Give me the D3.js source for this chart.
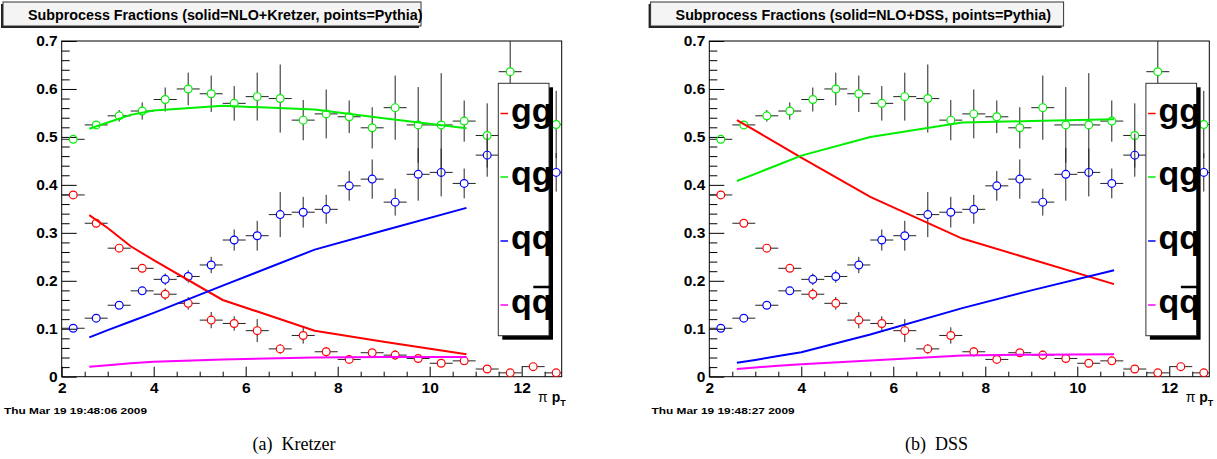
<!DOCTYPE html>
<html>
<head>
<meta charset="utf-8">
<script src="https://cdn.jsdelivr.net/npm/d3@7/dist/d3.min.js"></script>
<style>
  html, body { margin: 0; padding: 0; background: #fff; }
  svg { display: block; }
</style>
</head>
<body>
<svg id="chart" width="1217" height="459"></svg>
<script>
// ---------------- DATA ----------------
const binCenters = [2.25, 2.75, 3.25, 3.75, 4.25, 4.75, 5.25, 5.75, 6.25, 6.75, 7.25,
                    7.75, 8.25, 8.75, 9.25, 9.75, 10.25, 10.75, 11.25, 11.75, 12.25, 12.75];
const binHalfWidth = 0.25;

// Pythia points
const pythiaGG    = [0.379, 0.320, 0.268, 0.226, 0.172, 0.153, 0.118, 0.111, 0.096, 0.058, 0.086,
                     0.052, 0.036, 0.050, 0.045, 0.038, 0.028, 0.033, 0.016, 0.008, 0.021, 0.008];
const pythiaGGErr = [0.003, 0.004, 0.005, 0.007, 0.012, 0.013, 0.017, 0.015, 0.024, 0.010, 0.017,
                     0.010, 0.006, 0.008, 0.010, 0.008, 0.005, 0.005, 0.004, 0.003, 0.004, 0.003];
const pythiaQG    = [0.495, 0.525, 0.544, 0.554, 0.578, 0.600, 0.590, 0.570, 0.584, 0.580, 0.535,
                     0.548, 0.542, 0.519, 0.561, 0.525, 0.525, 0.533, 0.503, 0.636, 0.560, 0.526];
const pythiaQGErr = [0.004, 0.006, 0.012, 0.018, 0.025, 0.034, 0.038, 0.036, 0.050, 0.071, 0.042,
                     0.051, 0.034, 0.043, 0.067, 0.079, 0.108, 0.043, 0.067, 0.100, 0.040, 0.070];
const pythiaQQ    = [0.101, 0.122, 0.149, 0.179, 0.203, 0.209, 0.233, 0.285, 0.294, 0.338, 0.343,
                     0.349, 0.398, 0.412, 0.364, 0.422, 0.426, 0.403, 0.462, 0.450, 0.440, 0.426];
const pythiaQQErr = [0.003, 0.004, 0.005, 0.006, 0.012, 0.013, 0.017, 0.022, 0.031, 0.047, 0.032,
                     0.030, 0.031, 0.041, 0.028, 0.055, 0.050, 0.031, 0.045, 0.040, 0.040, 0.040];

// NLO curves
const curveX = [2.6, 3.0, 3.5, 4.0, 5.5, 7.5, 9.0, 10.8];
const kretzerGG   = [0.337, 0.310, 0.272, 0.243, 0.160, 0.096, 0.073, 0.047];
const kretzerQG   = [0.517, 0.530, 0.546, 0.555, 0.565, 0.557, 0.539, 0.518];
const kretzerQQ   = [0.082, 0.097, 0.115, 0.133, 0.190, 0.265, 0.305, 0.352];
const kretzerQQbar= [0.021, 0.024, 0.028, 0.031, 0.036, 0.040, 0.041, 0.041];
const dssGG       = [0.535, 0.513, 0.485, 0.457, 0.375, 0.288, 0.245, 0.193];
const dssQG       = [0.408, 0.423, 0.442, 0.461, 0.500, 0.530, 0.533, 0.537];
const dssQQ       = [0.029, 0.035, 0.043, 0.051, 0.088, 0.143, 0.180, 0.222];
const dssQQbar    = [0.016, 0.019, 0.023, 0.026, 0.034, 0.044, 0.046, 0.047];

// Axes
const yTicks = [0, 0.1, 0.2, 0.3, 0.4, 0.5, 0.6, 0.7];
const yTickLabels = ["0", "0.1", "0.2", "0.3", "0.4", "0.5", "0.6", "0.7"];
const xTicks = [2, 4, 6, 8, 10, 12];
const xTickLabels = ["2", "4", "6", "8", "10", "12"];
const legendLabels = ["gg", "qg", "qq", "qqbar"];
const seriesColors = ["#ff0000", "#00ee00", "#0000ff", "#ff00ff"];

const panels = [
  { title: "Subprocess Fractions (solid=NLO+Kretzer, points=Pythia)",
    stamp: "Thu Mar 19 19:48:06 2009", caption: "(a)\u2002Kretzer",
    curves: [kretzerGG, kretzerQG, kretzerQQ, kretzerQQbar] },
  { title: "Subprocess Fractions (solid=NLO+DSS, points=Pythia)",
    stamp: "Thu Mar 19 19:48:27 2009", caption: "(b)\u2002DSS",
    curves: [dssGG, dssQG, dssQQ, dssQQbar] }
];

// ---------------- DRAW ----------------
const svg = d3.select("#chart");
const FONT = "'Liberation Sans', Arial, Helvetica, sans-serif";
const panelDX = 647.6;

panels.forEach((p, pi) => {
  const dx = pi * panelDX;
  const g = svg.append("g").attr("transform", `translate(${dx},0)`);
  const x0 = 61.7, x1 = 561.7, yTop = 41, yBot = 376.7;
  const x = d3.scaleLinear().domain([2, 12.87]).range([x0, x1]);
  const y = d3.scaleLinear().domain([0, 0.7]).range([yBot, yTop]);

  // Title box
  const tb = { x: 3, y: 2, w: pi === 0 ? 418 : 413, h: 24 };
  g.append("rect").attr("x", tb.x - 2).attr("y", tb.y + 2).attr("width", tb.w).attr("height", tb.h)
    .attr("fill", "#222");
  g.append("rect").attr("x", tb.x).attr("y", tb.y).attr("width", tb.w).attr("height", tb.h)
    .attr("fill", "#f4f4f4").attr("stroke", "#333").attr("stroke-width", 1);
  g.append("text").attr("x", tb.x + 25).attr("y", 19.5)
    .attr("font-family", FONT).attr("font-weight", "bold")
    .attr("font-size", 14.3).attr("fill", "#000").text(p.title);

  // Frame
  g.append("rect").attr("x", x0).attr("y", yTop).attr("width", x1 - x0).attr("height", yBot - yTop)
    .attr("fill", "none").attr("stroke", "#000").attr("stroke-width", 1);

  // Y axis major
  const yAxis = d3.axisLeft(y).tickValues(yTicks).tickSizeInner(-15).tickSizeOuter(0).tickPadding(4)
    .tickFormat((d, i) => yTickLabels[i]);
  const ya = g.append("g").attr("transform", `translate(${x0},0)`).call(yAxis);
  ya.select(".domain").remove();
  ya.selectAll("text").attr("font-family", FONT).attr("font-weight", "bold").attr("font-size", 15.5).attr("fill", "#000");
  ya.selectAll("line").attr("stroke", "#000");
  // Y minor
  const yMinor = d3.range(0, 0.7001, 0.02).filter(v => Math.abs(v * 10 - Math.round(v * 10)) > 1e-6);
  const yam = g.append("g").attr("transform", `translate(${x0},0)`)
    .call(d3.axisLeft(y).tickValues(yMinor).tickSizeInner(-8).tickSizeOuter(0).tickFormat(""));
  yam.select(".domain").remove();
  yam.selectAll("line").attr("stroke", "#000");

  // X axis major
  const xAxis = d3.axisBottom(x).tickValues(xTicks).tickSizeInner(-10).tickSizeOuter(0).tickPadding(5)
    .tickFormat((d, i) => xTickLabels[i]);
  const xa = g.append("g").attr("transform", `translate(0,${yBot})`).call(xAxis);
  xa.select(".domain").remove();
  xa.selectAll("text").attr("font-family", FONT).attr("font-weight", "bold").attr("font-size", 15.5).attr("fill", "#000");
  xa.selectAll("line").attr("stroke", "#000");
  const xMinor = d3.range(2.5, 12.87, 0.5).filter(v => Math.abs(v / 2 - Math.round(v / 2)) > 1e-6);
  const xam = g.append("g").attr("transform", `translate(0,${yBot})`)
    .call(d3.axisBottom(x).tickValues(xMinor).tickSizeInner(-5).tickSizeOuter(0).tickFormat(""));
  xam.select(".domain").remove();
  xam.selectAll("line").attr("stroke", "#000");

  // Axis title  pi p_T
  const at = g.append("text").attr("x", x1 + 4).attr("y", 402).attr("text-anchor", "end")
    .attr("font-family", FONT).attr("font-size", 14).attr("fill", "#000");
  at.append("tspan").text("\u03c0 ");
  at.append("tspan").attr("font-weight", "bold").text("p");
  at.append("tspan").attr("font-weight", "bold").attr("font-size", 9).attr("dy", 4).text("T");

  // Clip
  const clipId = "clip" + pi;
  g.append("clipPath").attr("id", clipId).append("rect")
    .attr("x", x0).attr("y", yTop).attr("width", x1 - x0).attr("height", yBot - yTop);
  const plot = g.append("g").attr("clip-path", `url(#${clipId})`);

  // Pythia points
  const r = 3.9;
  const pts = [
    { v: pythiaGG, e: pythiaGGErr, c: seriesColors[0] },
    { v: pythiaQG, e: pythiaQGErr, c: seriesColors[1] },
    { v: pythiaQQ, e: pythiaQQErr, c: seriesColors[2] }
  ];
  pts.forEach(s => {
    binCenters.forEach((bc, i) => {
      const cx = x(bc), cy = y(s.v[i]);
      const yHi = y(s.v[i] + s.e[i]), yLo = y(s.v[i] - s.e[i]);
      const xl = x(bc - binHalfWidth), xr = x(bc + binHalfWidth);
      const eg = plot.append("g").attr("stroke", "#222").attr("stroke-width", 1);
      eg.append("line").attr("x1", xl).attr("x2", cx - r).attr("y1", cy).attr("y2", cy);
      eg.append("line").attr("x1", cx + r).attr("x2", xr).attr("y1", cy).attr("y2", cy);
      if (cy - yHi > r) eg.append("line").attr("x1", cx).attr("x2", cx).attr("y1", yHi).attr("y2", cy - r);
      if (yLo - cy > r) eg.append("line").attr("x1", cx).attr("x2", cx).attr("y1", cy + r).attr("y2", yLo);
      plot.append("circle").attr("cx", cx).attr("cy", cy).attr("r", r)
        .attr("fill", "none").attr("stroke", s.c).attr("stroke-width", 1.2);
    });
  });

  // NLO curves
  const line = d3.line().x(d => x(d[0])).y(d => y(d[1]));
  p.curves.forEach((vals, k) => {
    plot.append("path").datum(curveX.map((cx, i) => [cx, vals[i]]))
      .attr("d", line).attr("fill", "none").attr("stroke", seriesColors[k]).attr("stroke-width", 2);
  });

  // Legend
  const lb = { x: 498.3, y: 83.3, w: 50.7, h: 252.4 };
  g.append("rect").attr("x", lb.x + 4).attr("y", lb.y + 4).attr("width", lb.w).attr("height", lb.h).attr("fill", "#000");
  g.append("rect").attr("x", lb.x).attr("y", lb.y).attr("width", lb.w).attr("height", lb.h)
    .attr("fill", "#fff").attr("stroke", "#333").attr("stroke-width", 1);
  const baselines = [121.5, 185, 249, 313];
  legendLabels.forEach((lab, k) => {
    const by = baselines[k];
    g.append("line").attr("x1", 500.5).attr("x2", 508).attr("y1", by - 8).attr("y2", by - 8)
      .attr("stroke", seriesColors[k]).attr("stroke-width", 1.5);
    const t = g.append("text").attr("x", 511).attr("y", by).attr("font-family", FONT)
      .attr("font-weight", "bold").attr("font-size", 34).attr("fill", "#000")
      .text(lab === "qqbar" ? "qq" : lab);
    if (lab === "qqbar") {
      const w1 = t.node().getSubStringLength(0, 1);
      g.append("line").attr("x1", 511 + w1 + 1.5).attr("x2", 511 + 2 * w1 - 1)
        .attr("y1", by - 26).attr("y2", by - 26).attr("stroke", "#000").attr("stroke-width", 2.5);
    }
  });

  // Timestamp
  g.append("text").attr("x", 4).attr("y", 414).attr("font-family", FONT).attr("font-weight", "bold")
    .attr("font-size", 9).attr("textLength", 143).attr("lengthAdjust", "spacingAndGlyphs")
    .attr("fill", "#000").text(p.stamp);

  // Caption
  g.append("text").attr("x", pi === 0 ? 294 : 289).attr("y", 450).attr("text-anchor", "middle")
    .attr("font-family", "'Liberation Serif', 'DejaVu Serif', serif").attr("font-size", 18)
    .attr("fill", "#000").text(p.caption);
});
</script>
</body>
</html>
